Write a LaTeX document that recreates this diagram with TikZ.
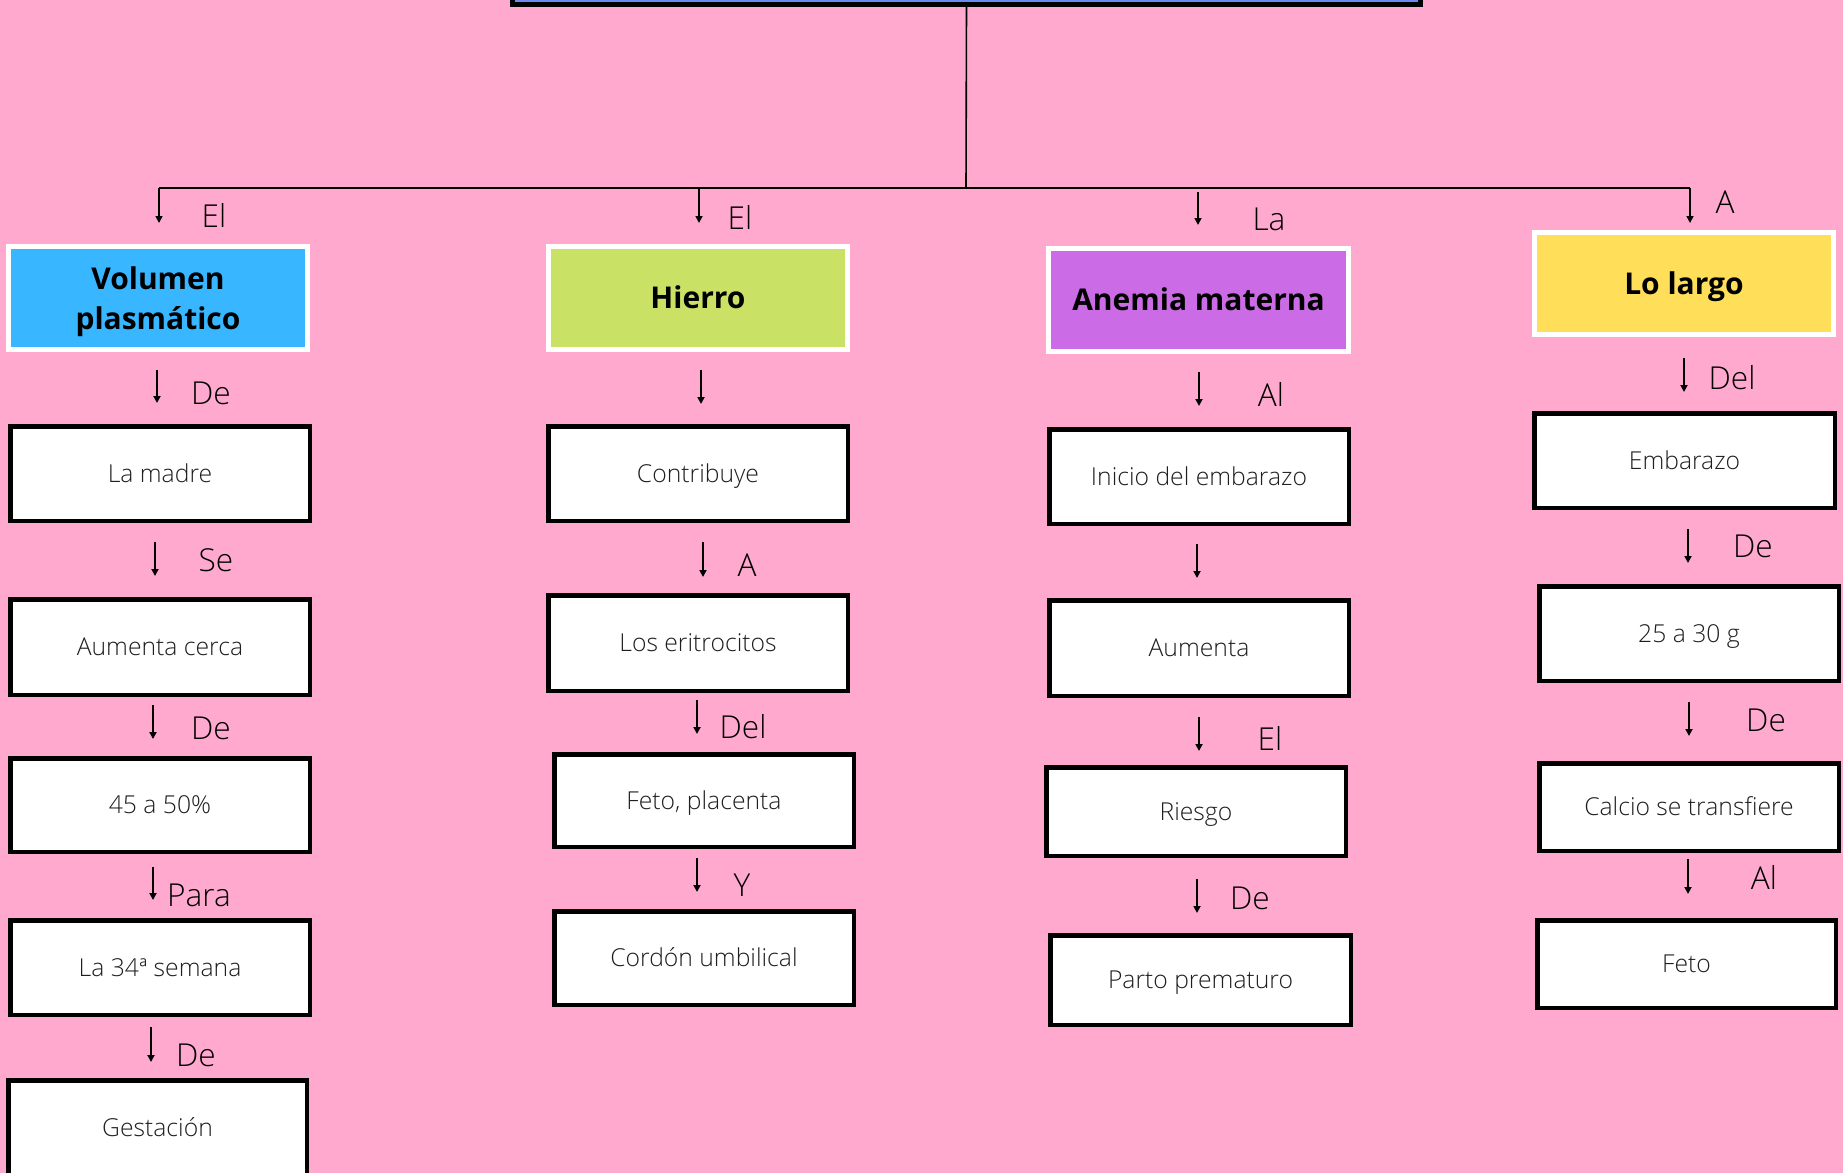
\documentclass[tikz,border=0pt]{standalone}
\usepackage{fontspec}
\setmainfont{Open Sans}
\newfontfamily\lightfont{Open Sans Light}
\usetikzlibrary{arrows.meta}
\definecolor{bgpink}{HTML}{FFA9CE}
\definecolor{hcyan}{HTML}{38B6FF}
\definecolor{hgreen}{HTML}{C9E265}
\definecolor{hpurple}{HTML}{CB6CE6}
\definecolor{hyellow}{HTML}{FFDE59}
\definecolor{tblue}{HTML}{6A8CF2}
\definecolor{txt}{HTML}{1F1F1F}
\newcommand\mkarrow[4]{\coordinate (#1s) at (#2,#3); \coordinate (#1e) at (#2,#4); \draw[arr] (#1s) -- (#1e);}
\tikzset{
  box/.style={draw=black, line width=2.25pt, fill=white, minimum width=149.75pt,
    minimum height=#1, inner sep=0pt, outer sep=0pt, text=txt,
    font=\lightfont\fontsize{12.35pt}{14pt}\selectfont, text height=8.8pt, text depth=0pt},
  box/.default=47.25pt,
  header/.style={draw=white, line width=2.5pt, fill=#1, minimum width=149.5pt,
    minimum height=51.5pt, inner sep=0pt, outer sep=0pt, text=black, align=center,
    font=\fontsize{15pt}{20pt}\selectfont\bfseries, text depth=0pt},
  oneline/.style={text height=10.7pt, text depth=0pt},
  lbl/.style={anchor=base, inner sep=0pt, text=black, font=\lightfont\fontsize{15.8pt}{18pt}\selectfont},
  arr/.style={line width=1pt, -{Triangle[length=3.5pt,width=3.5pt]}},
  tarr/.style={line width=0.8pt, -{Triangle[length=3.5pt,width=3.5pt]}},
}
\begin{document}
\begin{tikzpicture}[x=0.5pt,y=-0.5pt]
\useasboundingbox (0,0) rectangle (1843,1173);
\clip (0,0) rectangle (1843,1173);
\fill[bgpink] (0,0) rectangle (1843,1173);

% title box (cut off at top)
\node[draw=black, line width=2.5pt, fill=tblue, minimum width=454pt, minimum height=44.75pt,
  inner sep=0pt, outer sep=0pt] (title) at (966.5,-40.25) {};
\coordinate (hub) at (966,188);
\coordinate (hl) at (159,188);
\coordinate (hr) at (1690,188);
\draw[line width=0.8pt] (title.south) -- (hub);
\draw[line width=1.2pt] (hl) -- (hr);

% top branch arrows
\coordinate (t1s) at (159,188); \coordinate (t1e) at (159,223); \draw[tarr] (t1s) -- (t1e);
\coordinate (t2s) at (699,188); \coordinate (t2e) at (699,223); \draw[tarr] (t2s) -- (t2e);
\coordinate (t3s) at (1198,192); \coordinate (t3e) at (1198,225); \draw[tarr] (t3s) -- (t3e);
\coordinate (t4s) at (1690,188); \coordinate (t4e) at (1690,223); \draw[tarr] (t4s) -- (t4e);
\node[lbl] (t1l) at (214,227) {El};
\node[lbl] (t2l) at (740,229) {El};
\node[lbl] (t3l) at (1269,230) {La};
\node[lbl] (t4l) at (1725,213) {A};

% headers
\node[header=hcyan] (vol) at (158,298) {Volumen\\plasmático};
\node[header=hgreen, oneline] (hie) at (698,298) {Hierro};
\node[header=hpurple, oneline, minimum width=150pt] (ane) at (1198.5,300) {Anemia materna};
\node[header=hyellow, oneline, minimum height=51pt] (lar) at (1684,283.5) {Lo largo};

% column 1
\node[box] (madre) at (160,473.5) {La madre};
\node[box=47.75pt] (aumc) at (160,647) {Aumenta cerca};
\node[box=46.75pt] (p45) at (160,805) {45 a 50\%};
\node[box] (s34) at (160,967.5) {La 34ª semana};
\node[box=47.75pt, minimum width=149.25pt] (gest) at (157.5,1128) {Gestación};
\mkarrow{a11}{157}{370}{403}
\mkarrow{a12}{155}{542}{576}
\mkarrow{a13}{153}{705}{739}
\mkarrow{a14}{153}{867}{900}
\mkarrow{a15}{151}{1027}{1062}
\node[lbl] (l11) at (211,404) {De};
\node[lbl] (l12) at (216,571) {Se};
\node[lbl] (l13) at (211,739) {De};
\node[lbl] (l14) at (199,906) {Para};
\node[lbl] (l15) at (196,1066) {De};

% column 2
\node[box] (contr) at (698,473.5) {Contribuye};
\node[box=47.75pt] (eri) at (698,643) {Los eritrocitos};
\node[box=46.25pt] (fpl) at (704,800.5) {Feto, placenta};
\node[box=46.75pt] (cor) at (704,958) {Cordón umbilical};
\mkarrow{a21}{701}{370}{404}
\mkarrow{a22}{703}{542}{577}
\mkarrow{a23}{697}{700}{734}
\mkarrow{a24}{697}{858}{892}
\node[lbl] (l22) at (747,576) {A};
\node[lbl] (l23) at (743,738) {Del};
\node[lbl] (l24) at (742,896) {Y};

% column 3
\node[box] (ini) at (1199,476.5) {Inicio del embarazo};
\node[box=47.75pt] (aum) at (1199,648) {Aumenta};
\node[box=44.25pt] (rie) at (1196,811.5) {Riesgo};
\node[box=44.75pt, minimum width=150.25pt] (par) at (1200.5,980) {Parto prematuro};
\mkarrow{a31}{1199}{372}{406}
\mkarrow{a32}{1197}{544}{578}
\mkarrow{a33}{1199}{717}{751}
\mkarrow{a34}{1197}{879}{913}
\node[lbl] (l31) at (1271,406) {Al};
\node[lbl] (l33) at (1270,750) {El};
\node[lbl] (l34) at (1250,909) {De};

% column 4
\node[box, minimum width=150.25pt] (emb) at (1684.5,460.5) {Embarazo};
\node[box] (g25) at (1689,633.5) {25 a 30 g};
\node[box=43.75pt] (cal) at (1689,807) {Calcio se transfiere};
\node[box=43.75pt, minimum width=149.25pt] (fet) at (1686.5,964) {Feto};
\mkarrow{a41}{1684}{358}{392}
\mkarrow{a42}{1688}{529}{563}
\mkarrow{a43}{1689}{702}{736}
\mkarrow{a44}{1688}{859}{894}
\node[lbl] (l41) at (1732,389) {Del};
\node[lbl] (l42) at (1753,557) {De};
\node[lbl] (l43) at (1766,731) {De};
\node[lbl] (l44) at (1764,889) {Al};
\end{tikzpicture}
\end{document}
